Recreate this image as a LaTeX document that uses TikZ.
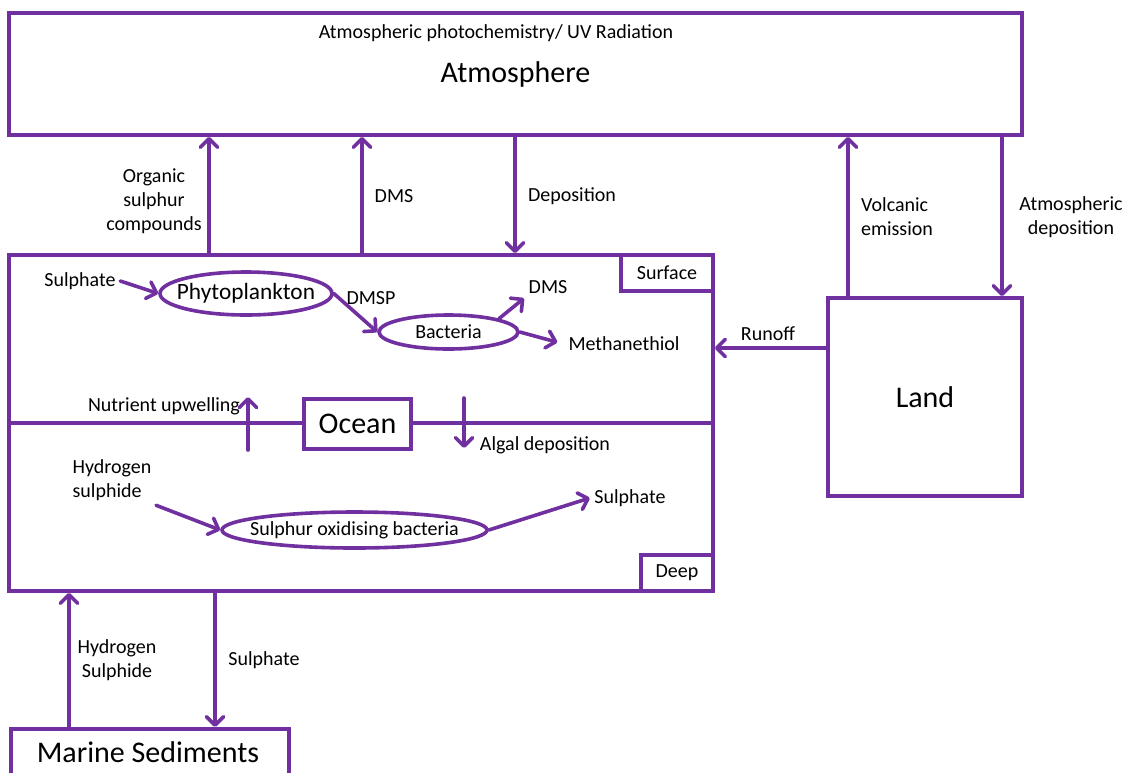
\documentclass[tikz,border=0pt]{standalone}
\usepackage{fontspec}
\setmainfont{Carlito}
\usetikzlibrary{arrows.meta, positioning, shapes.geometric, calc}
\definecolor{scpurple}{HTML}{7030A0}

\begin{document}
\begin{tikzpicture}[x=0.75pt, y=-0.75pt,
  every node/.style={font=\fontsize{15}{18}\selectfont, align=center, text=black},
  box/.style={rectangle, draw=scpurple, line width=2.7pt, inner sep=0pt},
  cell/.style={ellipse, draw=scpurple, line width=2.7pt, inner sep=0pt},
  big/.style={font=\fontsize{22.5}{27}\selectfont},
  flow/.style={draw=scpurple, line width=2.7pt, line cap=round,
               -{Straight Barb[length=6.5pt, width=13pt, line cap=round, line join=round]}},
]
  \useasboundingbox (0,0) rectangle (1126,772);

  % Reservoirs
  \node[box, big, minimum width=759.75pt, minimum height=91.5pt] (atm) at (515.5,74) {Atmosphere};
  \node (photo) at (496,33) {Atmospheric photochemistry/ UV Radiation};
  \node[box, minimum width=528pt, minimum height=252pt] (ocean) at (361,423) {};
  \draw[scpurple, line width=2.7pt] (ocean.west) -- (ocean.east);
  \node[box, big, fill=white, minimum width=80.25pt, minimum height=37.5pt] (oc) at (357.5,424) {Ocean};
  \node[box, anchor=north east, minimum width=69pt, minimum height=27pt] (surf) at (ocean.north east) {Surface};
  \node[box, anchor=south east, minimum width=54pt, minimum height=27pt] (deep) at (ocean.south east) {Deep};
  \node[box, big, minimum width=145.5pt, minimum height=148.5pt] (land) at (925,397) {Land};
  \node[box, anchor=north west, minimum width=208.5pt, minimum height=60pt] (sed) at (9,727) {};
  \node[big] (sedtxt) at (148,752) {Marine Sediments};

  % Exchanges with atmosphere, land and sediments
  \coordinate (org) at (209,255);
  \coordinate (dmsup) at (362,255);
  \coordinate (dep) at (515,135);
  \coordinate (volc) at (848,298);
  \coordinate (atmdep) at (1002,135);
  \coordinate (run) at (828,348);
  \coordinate (hsup) at (69,727);
  \coordinate (sulfdn) at (215,591);
  \draw[flow] (org) -- (org |- atm.south);
  \draw[flow] (dmsup) -- (dmsup |- atm.south);
  \draw[flow] (dep) -- (dep |- ocean.north);
  \draw[flow] (volc) -- (volc |- atm.south);
  \draw[flow] (atmdep) -- (atmdep |- land.north);
  \draw[flow] (run) -- (run -| ocean.east);
  \draw[flow] (hsup) -- (hsup |- ocean.south);
  \draw[flow] (sulfdn) -- (sulfdn |- sed.north);

  \node (orglbl) at (154,201) {Organic\\sulphur\\compounds};
  \node (dmslbl) at (394,196) {DMS};
  \node (deplbl) at (572,196) {Deposition};
  \node[align=left] (volclbl) at (897,217) {Volcanic\\emission};
  \node (atmdeplbl) at (1071,217) {Atmospheric\\deposition};
  \node (runlbl) at (768,334) {Runoff};
  \node (hsout) at (117,660) {Hydrogen\\Sulphide};
  \node (sulfsed) at (264,660) {Sulphate};

  % Surface ocean
  \node (sulfin) at (80,281) {Sulphate};
  \node[cell, minimum width=129pt, minimum height=32.25pt,
        label={[font=\fontsize{17.5}{21}\selectfont]center:Phytoplankton}] (phyto) at (246,293.5) {};
  \node[cell, minimum width=104.25pt, minimum height=25.5pt, label=center:Bacteria] (bact) at (448.5,332) {};
  \node (dmsp) at (371,298) {DMSP};
  \node (dmsout) at (548,287) {DMS};
  \node (meth) at (624,344) {Methanethiol};
  \draw[flow] (sulfin.east) -- (phyto.west);
  \draw[flow] (phyto.east) -- (bact.west);
  \draw[flow] (bact.north east) -- (dmsout.south west);
  \draw[flow, shorten >=5pt] (bact.east) -- (meth.west);

  % Mixing between layers
  \node (nutr) at (164,406) {Nutrient upwelling};
  \node (algal) at (545,445) {Algal deposition};
  \coordinate (upb) at (248,450);
  \coordinate (upt) at (248,397);
  \coordinate (dnt) at (464,398);
  \coordinate (dnb) at (464,448);
  \draw[flow] (upb) -- (upt);
  \draw[flow] (dnt) -- (dnb);

  % Deep ocean
  \node[align=left] (hsin) at (112,480) {Hydrogen\\sulphide};
  \node[cell, minimum width=198.75pt, minimum height=27pt, label=center:Sulphur oxidising bacteria] (sob) at (354.5,530) {};
  \node (sulfout) at (630,498) {Sulphate};
  \draw[flow] (hsin.south east) -- (sob.west);
  \draw[flow] (sob.east) -- (sulfout.west);
\end{tikzpicture}
\end{document}
